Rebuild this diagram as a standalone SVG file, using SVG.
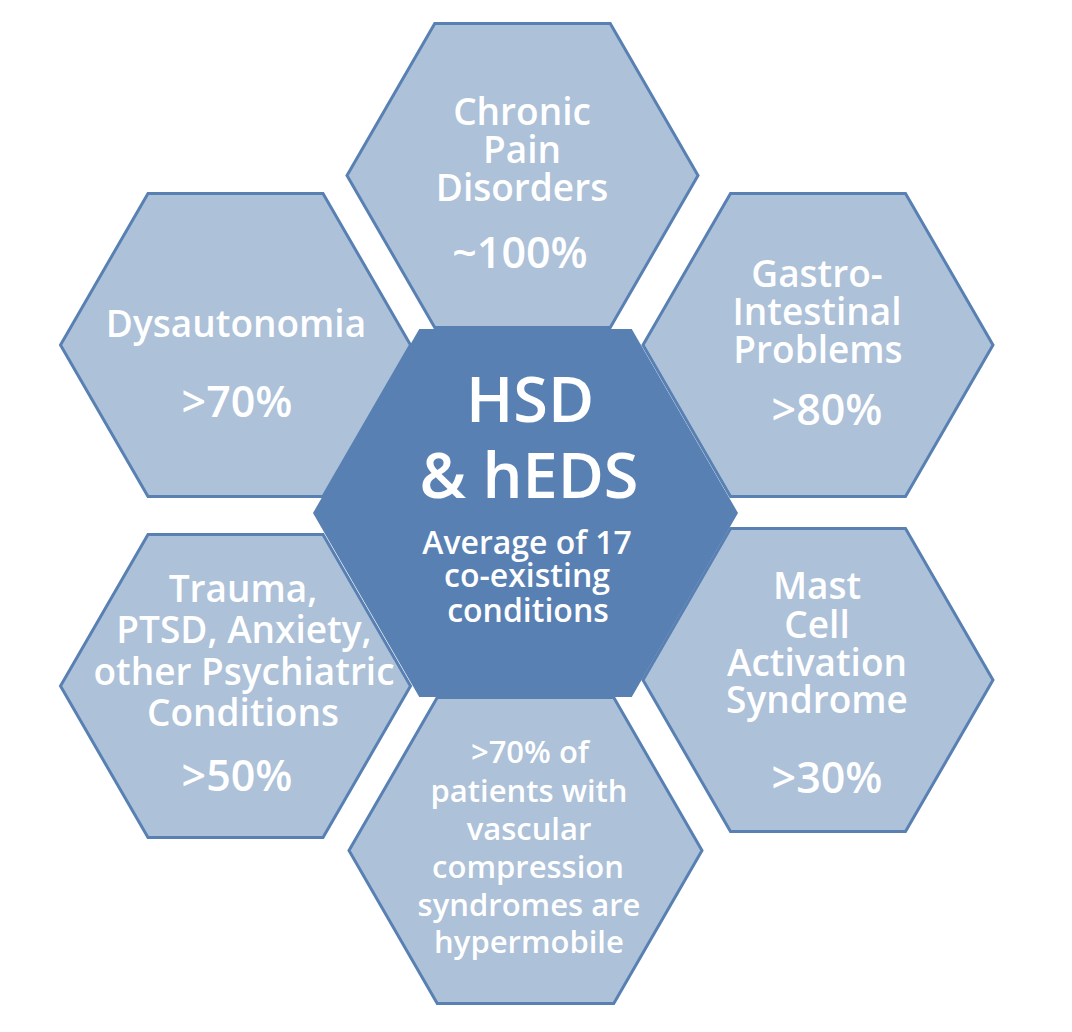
<svg xmlns="http://www.w3.org/2000/svg" width="1072" height="1032" viewBox="0 0 1072 1032">
<style>
.hex{fill:#adc1d9;stroke:#5880b3;stroke-width:3;stroke-linejoin:miter}
.core{fill:#5880b3}
text{font-family:"Open Sans","Liberation Sans",sans-serif;font-weight:600;fill:#ffffff;text-anchor:middle}
.t{font-size:37px}
.n{font-size:43px}
.s{font-size:31px}
.big{font-size:63px}
.mid{font-size:32px}
</style>
<rect width="1072" height="1032" fill="#ffffff"/>
<g id="connectors"></g>
<g id="chronic-pain">
<polygon class="hex" points="347,175.5 434.75,23.5 610.25,23.5 698,175.5 610.25,327.5 434.75,327.5"/>
<text class="t" x="522" y="125">Chronic</text>
<text class="t" x="522" y="163">Pain</text>
<text class="t" x="522" y="201">Disorders</text>
<text class="n" x="520" y="268">~100%</text>
</g>
<g id="dysautonomia">
<polygon class="hex" points="60.5,345 148,193.4 323,193.4 410.5,345 323,496.6 148,496.6"/>
<text class="t" x="236" y="337">Dysautonomia</text>
<text class="n" x="237" y="417">&gt;70%</text>
</g>
<g id="gastro">
<polygon class="hex" points="643,345 730.5,193.4 905.5,193.4 993,345 905.5,496.6 730.5,496.6"/>
<text class="t" x="817" y="287">Gastro-</text>
<text class="t" x="817" y="325">Intestinal</text>
<text class="t" x="818" y="363">Problems</text>
<text class="n" x="827" y="425">&gt;80%</text>
</g>
<g id="trauma">
<polygon class="hex" points="60.5,686 148,534.4 323,534.4 410.5,686 323,837.6 148,837.6"/>
<text class="t" x="243" y="602">Trauma,</text>
<text class="t" x="244" y="643">PTSD, Anxiety,</text>
<text class="t" x="244" y="685">other Psychiatric</text>
<text class="t" x="243" y="726">Conditions</text>
<text class="n" x="237" y="791">&gt;50%</text>
</g>
<g id="mast-cell">
<polygon class="hex" points="643,680 730.5,528.4 905.5,528.4 993,680 905.5,831.6 730.5,831.6"/>
<text class="t" x="817" y="599">Mast</text>
<text class="t" x="817" y="638">Cell</text>
<text class="t" x="817" y="676">Activation</text>
<text class="t" x="817" y="713">Syndrome</text>
<text class="n" x="827" y="793">&gt;30%</text>
</g>
<g id="vascular">
<polygon class="hex" points="349,850.5 437.25,697.6 613.75,697.6 702,850.5 613.75,1003.4 437.25,1003.4"/>
<text class="s" x="530" y="763">&gt;70% of</text>
<text class="s" x="529" y="802">patients with</text>
<text class="s" x="529" y="840">vascular</text>
<text class="s" x="528" y="878">compression</text>
<text class="s" x="529" y="916">syndromes are</text>
<text class="s" x="529" y="953">hypermobile</text>
</g>
<g id="center">
<polygon class="core" points="313,513 419.25,329 631.75,329 738,513 631.75,697 419.25,697"/>
<text class="big" x="530" y="422">HSD</text>
<text class="big" x="529" y="498">&amp; hEDS</text>
<text class="mid" x="527" y="554">Average of 17</text>
<text class="mid" x="527" y="587">co-existing</text>
<text class="mid" x="528" y="622">conditions</text>
</g>
</svg>
